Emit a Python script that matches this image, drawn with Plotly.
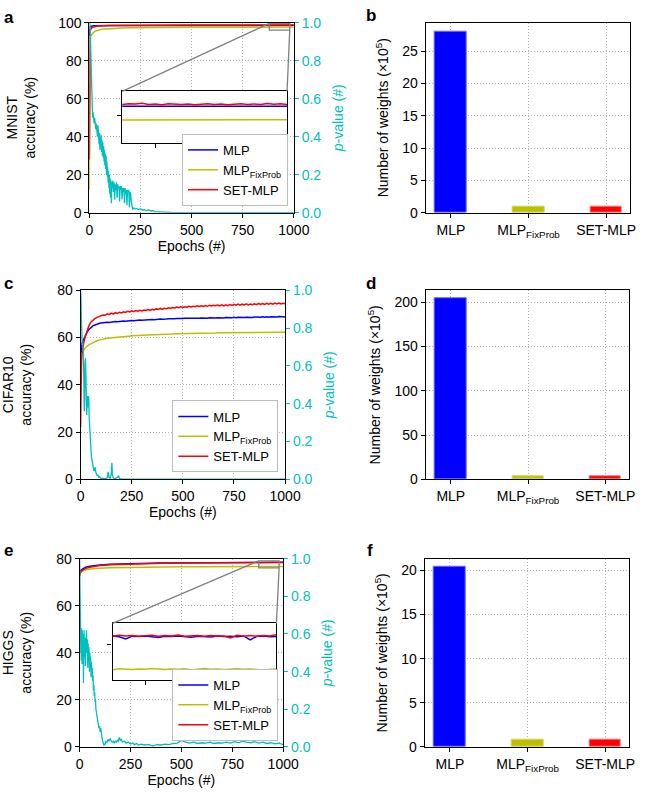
import plotly.graph_objects as go

W, H = 653, 798
FONT = "Liberation Sans, Arial, Helvetica, sans-serif"

# matplotlib-like 'b', 'y', 'r', 'c'
BLUE = "#0000FF"
YELLOW = "#BFBF00"
RED = "#FF0000"
CYAN = "#00BFBF"

MODELS = ["MLP", "MLP<sub>FixProb</sub>", "SET-MLP"]
TAIL_EP = list(range(876, 989, 4))  # epochs shown inside the zoom insets

# ---------------- MNIST ----------------
mnist_ep = [0, 1, 2, 3, 4, 6, 8, 10, 13, 16, 20, 25, 30, 40, 50, 60, 80, 100, 130, 160,
            200, 250, 300, 400, 500, 600, 700, 800, 850] + TAIL_EP + [1000]
mnist_mlp = [93.0, 96.5, 97.3, 97.7, 97.9, 98.05, 98.15, 98.2, 98.25, 98.3, 98.35, 98.38, 98.4, 98.43,
             98.45, 98.47, 98.5, 98.52, 98.54, 98.55, 98.56, 98.57, 98.57, 98.58, 98.58, 98.59, 98.59,
             98.6, 98.6,
             98.60, 98.59, 98.60, 98.61, 98.60, 98.59, 98.60, 98.61, 98.60, 98.60, 98.59, 98.60, 98.61,
             98.60, 98.60, 98.59, 98.60, 98.61, 98.60, 98.60, 98.59, 98.60, 98.61, 98.60, 98.59, 98.60,
             98.60, 98.61, 98.60,
             98.60]
mnist_fix = [12.0, 80.0, 87.5, 90.5, 92.0, 93.0, 93.3, 93.6, 94.0, 94.5, 95.0, 95.3, 95.6, 96.0,
             96.3, 96.5, 96.7, 96.9, 97.05, 97.2, 97.3, 97.4, 97.45, 97.55, 97.6, 97.62, 97.65,
             97.66, 97.67,
             97.68, 97.67, 97.68, 97.69, 97.68, 97.67, 97.68, 97.68, 97.69, 97.68, 97.67, 97.68, 97.68,
             97.69, 97.68, 97.68, 97.67, 97.68, 97.68, 97.69, 97.68, 97.67, 97.68, 97.69, 97.68, 97.68,
             97.69, 97.70, 97.69,
             97.69]
mnist_set = [28.0, 85.0, 92.0, 94.5, 95.5, 96.3, 96.8, 97.1, 97.4, 97.6, 97.8, 97.95, 98.05, 98.2,
             98.3, 98.38, 98.47, 98.52, 98.58, 98.62, 98.65, 98.68, 98.7, 98.72, 98.73, 98.74, 98.74,
             98.75, 98.74,
             98.76, 98.72, 98.78, 98.75, 98.80, 98.73, 98.76, 98.71, 98.77, 98.74, 98.72, 98.76, 98.70,
             98.74, 98.77, 98.72, 98.75, 98.71, 98.74, 98.78, 98.73, 98.76, 98.72, 98.79, 98.74, 98.77,
             98.72, 98.76, 98.74,
             98.75]
mnist_p_ep = [0, 2, 4, 6, 8, 10, 12, 14, 16, 18, 20, 22, 24, 26, 28, 30, 32, 34, 36, 38, 40, 42, 44,
              46, 48, 50, 52, 54, 56, 58, 60, 62, 64, 66, 68, 70, 72, 74, 76, 78, 80, 82, 84, 86, 88,
              90, 92, 94, 96, 98, 100, 102, 104, 106, 108, 110, 112, 115, 118, 121, 124, 127, 130,
              133, 136, 139, 142, 145, 148, 151, 154, 157, 160, 163, 166, 169, 172, 175, 178, 181,
              184, 187, 190, 193, 196, 199, 202, 205, 208, 212, 218, 224, 230, 240, 250, 260, 270,
              280, 290, 300, 310, 320, 340, 370, 400, 500, 600, 700, 800, 900, 1000]
mnist_p = [1.0, 1.0, 0.98, 0.9, 0.75, 0.62, 0.55, 0.52, 0.5, 0.53, 0.49, 0.51, 0.47, 0.5, 0.46, 0.48,
           0.44, 0.47, 0.43, 0.45, 0.40, 0.46, 0.38, 0.44, 0.36, 0.42, 0.33, 0.40, 0.34, 0.41, 0.32,
           0.38, 0.30, 0.37, 0.29, 0.35, 0.27, 0.33, 0.25, 0.31, 0.23, 0.30, 0.20, 0.27, 0.19, 0.24,
           0.16, 0.22, 0.13, 0.20, 0.10, 0.18, 0.08, 0.17, 0.05, 0.16, 0.13, 0.17, 0.11, 0.16, 0.07,
           0.15, 0.12, 0.16, 0.08, 0.15, 0.13, 0.14, 0.06, 0.14, 0.12, 0.14, 0.07, 0.13, 0.11, 0.13,
           0.05, 0.13, 0.10, 0.12, 0.04, 0.12, 0.11, 0.12, 0.03, 0.11, 0.10, 0.06, 0.03, 0.02, 0.025,
           0.02, 0.022, 0.018, 0.02, 0.015, 0.017, 0.012, 0.015, 0.01, 0.012, 0.006, 0.005, 0.003,
           0.002, 0.001, 0.001, 0.0005, 0.0005, 0.0003, 0.0003]

# ---------------- CIFAR10 ----------------
cifar_ep = [0, 1, 2, 3, 5, 7, 10, 15, 20, 25, 30, 40, 50, 60, 70, 80, 90] + list(range(100, 1001, 10))
cifar_mlp = [48, 50, 53, 55, 56.5, 57.5, 58.3, 59.3, 60.3, 61.2, 62.0, 63.3, 64.2, 64.9, 65.3, 65.7, 65.9,
             66.1, 66.3, 66.2, 66.5, 66.4, 66.6, 66.5, 66.8, 66.7, 66.9,
             66.8, 67.0, 66.9, 67.1, 67.0, 67.2, 67.1, 67.3, 67.2, 67.4,
             67.3, 67.4, 67.3, 67.5, 67.4, 67.6, 67.5, 67.7, 67.6, 67.8,
             67.7, 67.9, 67.8, 67.9, 67.8, 68.0, 67.9, 68.0, 67.9, 68.1,
             68.0, 68.1, 68.0, 68.2, 68.1, 68.2, 68.1, 68.3, 68.2, 68.3,
             68.2, 68.3, 68.2, 68.4, 68.3, 68.4, 68.3, 68.4, 68.3, 68.5,
             68.3, 68.5, 68.4, 68.5, 68.4, 68.6, 68.4, 68.6, 68.5, 68.6,
             68.5, 68.6, 68.5, 68.7, 68.5, 68.7, 68.6, 68.7, 68.6, 68.8,
             68.6, 68.8, 68.6, 68.8, 68.7, 68.8, 68.7, 68.9, 68.7, 68.8,
             68.7]
cifar_fix = [40, 46, 49, 50.5, 52, 53, 53.8, 54.5, 55.2, 55.8, 56.2, 56.9, 57.4, 57.9, 58.3, 58.6, 58.9,
             59.2, 59.4, 59.5, 59.7, 59.8, 59.9, 60.0, 60.1, 60.2, 60.3,
             60.3, 60.4, 60.5, 60.5, 60.6, 60.7, 60.7, 60.8, 60.8, 60.9,
             60.9, 61.0, 61.0, 61.1, 61.1, 61.2, 61.2, 61.2, 61.3, 61.3,
             61.4, 61.4, 61.4, 61.5, 61.5, 61.5, 61.6, 61.6, 61.6, 61.6,
             61.7, 61.7, 61.7, 61.7, 61.8, 61.7, 61.8, 61.8, 61.8, 61.8,
             61.8, 61.9, 61.8, 61.9, 61.9, 61.9, 61.9, 62.0, 61.9, 62.0,
             62.0, 62.0, 62.0, 62.0, 62.1, 62.0, 62.1, 62.1, 62.0, 62.1,
             62.1, 62.1, 62.1, 62.2, 62.1, 62.1, 62.2, 62.2, 62.1, 62.2,
             62.2, 62.2, 62.2, 62.2, 62.3, 62.2, 62.2, 62.3, 62.2, 62.3,
             62.2]
cifar_set = [22, 35, 42, 47, 51, 53.5, 55.5, 57.5, 59.5, 61, 62.5, 64.8, 66.5, 67.4, 68.0, 68.5, 68.8,
             69.0, 69.5, 69.4, 70.0, 69.7, 70.3, 69.9, 70.5, 70.2, 70.7,
             70.4, 70.9, 70.6, 71.1, 70.8, 71.3, 70.9, 71.4, 71.1, 71.5,
             71.2, 71.6, 71.4, 71.8, 71.5, 71.9, 71.7, 72.1, 71.9, 72.3,
             72.0, 72.4, 72.2, 72.6, 72.3, 72.7, 72.5, 72.9, 72.6, 73.0,
             72.7, 73.0, 72.8, 73.2, 72.9, 73.2, 73.0, 73.4, 73.1, 73.4,
             73.1, 73.5, 73.2, 73.6, 73.3, 73.6, 73.4, 73.7, 73.4, 73.8,
             73.4, 73.8, 73.5, 73.9, 73.6, 74.0, 73.7, 74.1, 73.7, 74.1,
             73.8, 74.2, 73.8, 74.2, 73.9, 74.3, 73.9, 74.4, 74.0, 74.4,
             74.0, 74.5, 74.1, 74.5, 74.1, 74.6, 74.2, 74.6, 74.2, 74.5,
             74.3]
cifar_p_ep = [0, 2, 4, 6, 8, 10, 12, 14, 16, 18, 20, 22, 24, 26, 28, 30, 32, 34, 36, 38, 40, 42, 44,
              46, 48, 50, 53, 56, 59, 62, 65, 68, 71, 74, 77, 80, 84, 88, 92, 96, 100, 110, 120, 130,
              135, 139, 145, 150, 153, 156, 162, 170, 180, 186, 190, 200, 250, 300, 500, 1000]
cifar_p = [1.0, 0.96, 0.84, 0.75, 0.71, 0.72, 0.70, 0.66, 0.52, 0.36, 0.42, 0.61, 0.64, 0.55, 0.40,
           0.34, 0.40, 0.44, 0.38, 0.44, 0.43, 0.33, 0.28, 0.21, 0.18, 0.16, 0.12, 0.10, 0.08, 0.06,
           0.045, 0.05, 0.065, 0.04, 0.025, 0.02, 0.025, 0.01, 0.015, 0.006, 0.004, 0.006, 0.003,
           0.008, 0.04, 0.01, 0.004, 0.03, 0.088, 0.02, 0.004, 0.005, 0.01, 0.02, 0.005, 0.003,
           0.002, 0.001, 0.001, 0.0005]

# ---------------- HIGGS ----------------
higgs_ep = [0, 2, 5, 10, 20, 30, 50, 75, 100, 150, 200, 250, 300, 400, 500, 600, 700, 800, 850] + TAIL_EP + [1000]
higgs_mlp = [73.5, 74.3, 74.9, 75.4, 76.0, 76.4, 76.8, 77.1, 77.3, 77.6, 77.8, 77.9, 78.0, 78.15, 78.25,
             78.3, 78.35, 78.4, 78.42,
             78.44, 78.46, 78.42, 78.30, 78.45, 78.43, 78.46, 78.41, 78.38, 78.45, 78.43, 78.46, 78.42,
             78.39, 78.45, 78.44, 78.41, 78.46, 78.43, 78.45, 78.42, 78.46, 78.25, 78.44, 78.46, 78.42,
             78.45, 78.47, 78.44,
             78.44]
higgs_fix = [72.5, 73.4, 74.0, 74.5, 75.0, 75.3, 75.6, 75.85, 76.0, 76.2, 76.3, 76.4, 76.45, 76.55, 76.6,
             76.62, 76.65, 76.67, 76.68,
             76.68, 76.66, 76.71, 76.69, 76.67, 76.70, 76.68, 76.72, 76.69, 76.67, 76.70, 76.68, 76.71,
             76.66, 76.69, 76.72, 76.68, 76.70, 76.67, 76.69, 76.71, 76.68, 76.70, 76.67, 76.62, 76.69,
             76.71, 76.68, 76.70,
             76.69]
higgs_set = [72.8, 73.8, 74.4, 74.9, 75.5, 75.9, 76.4, 76.8, 77.1, 77.4, 77.6, 77.8, 77.9, 78.1, 78.2,
             78.3, 78.35, 78.4, 78.45,
             78.48, 78.45, 78.50, 78.46, 78.49, 78.44, 78.47, 78.50, 78.45, 78.48, 78.46, 78.51, 78.44,
             78.47, 78.49, 78.45, 78.48, 78.46, 78.46, 78.35, 78.50, 78.45, 78.48, 78.44, 78.49, 78.46,
             78.52, 78.47, 78.48,
             78.47]
higgs_p_ep = [0, 1, 2, 3, 4, 5, 6, 7, 8, 9, 10, 11, 12, 13, 14, 15, 16, 17, 18, 19, 20, 22, 24, 26, 28,
              30, 32, 34, 36, 38, 40, 42, 44, 46, 48, 50, 52, 54, 56, 58, 60, 62, 64, 66, 68, 70, 72,
              74, 76, 78, 80, 83, 86, 89, 92, 95, 98, 101, 104, 107, 110, 113, 116, 120, 125, 130, 135,
              140, 145, 150, 155, 160, 165, 170, 175, 180, 185, 190, 195, 200, 205, 210, 220, 230, 240,
              250, 260, 270, 280, 290, 300, 320, 340, 360, 380, 400, 420, 440, 460, 480, 500, 520, 540,
              560, 580, 600, 620, 640, 660, 680, 700, 720, 740, 760, 780, 800, 820, 840, 860, 880,
              900, 920, 940, 960, 980, 1000]
higgs_p = [1.0, 0.9, 0.75, 0.62, 0.55, 0.66, 0.5, 0.6, 0.46, 0.63, 0.5, 0.58, 0.44, 0.62, 0.48, 0.56,
           0.4, 0.6, 0.45, 0.34, 0.52, 0.62, 0.47, 0.58, 0.43, 0.55, 0.45, 0.62, 0.5, 0.57, 0.42, 0.55,
           0.46, 0.53, 0.40, 0.5, 0.43, 0.48, 0.37, 0.45, 0.38, 0.42, 0.35, 0.38, 0.3, 0.33, 0.27,
           0.29, 0.24, 0.25, 0.2, 0.18, 0.15, 0.13, 0.12, 0.1, 0.11, 0.08, 0.1, 0.06, 0.05, 0.03,
           0.02, 0.01, 0.015, 0.03, 0.025, 0.04, 0.03, 0.045, 0.03, 0.025, 0.03, 0.02, 0.03, 0.025,
           0.035, 0.03, 0.05, 0.035, 0.04, 0.025, 0.03, 0.02, 0.025, 0.015, 0.02, 0.012, 0.018, 0.01,
           0.015, 0.01, 0.012, 0.006, 0.012, 0.01, 0.015, 0.012, 0.018, 0.02, 0.035, 0.025, 0.02,
           0.025, 0.018, 0.022, 0.02, 0.025, 0.018, 0.022, 0.02, 0.025, 0.02, 0.028, 0.022, 0.03,
           0.025, 0.022, 0.028, 0.02, 0.025, 0.018, 0.022, 0.016, 0.02, 0.012]

# ---------------- number of weights (x10^5) ----------------
mnist_weights = [28.0, 0.95, 0.95]
cifar_weights = [204.0, 3.3, 3.3]
higgs_weights = [20.45, 0.85, 0.85]

# inset zoom windows (epochs, accuracy)
mnist_zoom_x, mnist_zoom_y = [880, 980], [96.09, 99.62]
higgs_zoom_x, higgs_zoom_y = [880, 980], [76.1, 79.13]

TICK_SIZE = 14
TITLE_SIZE = 14
GRID_DASH = "1px,2px"


def hx(p):
    return p / W


def vy(p):
    return 1 - p / H


def base_axis(**kw):
    d = dict(showline=True, linecolor="black", linewidth=1, mirror=True,
             ticks="outside", ticklen=4, tickwidth=1, tickcolor="black",
             showgrid=True, gridcolor="#b4b4b4", griddash=GRID_DASH, gridwidth=1,
             zeroline=False, tickfont=dict(size=TICK_SIZE, color="black"),
             title_font=dict(size=TITLE_SIZE, color="black"))
    d.update(kw)
    return d


def to_paper(v, rng, dom):
    return dom[0] + (v - rng[0]) / (rng[1] - rng[0]) * (dom[1] - dom[0])


fig = go.Figure()
layout = {}
shapes = []

# (name, epochs, series, p_ep, p, left max, x px, y px, legend box right/bottom px, legend no., title standoff)
panels = [
    ("MNIST", mnist_ep, (mnist_mlp, mnist_fix, mnist_set), mnist_p_ep, mnist_p, 100,
     (88, 299), (15, 209), (293, 202), 1, 19),
    ("CIFAR10", cifar_ep, (cifar_mlp, cifar_fix, cifar_set), cifar_p_ep, cifar_p, 80,
     (79, 290), (288, 481), (283, 474), 2, 26),
    ("HIGGS", higgs_ep, (higgs_mlp, higgs_fix, higgs_set), higgs_p_ep, higgs_p, 80,
     (78, 288), (562, 754), (283, 748), 3, 26),
]

for i, (name, ep, series, p_ep, p, ymax, xs, ys, lg, n, so) in enumerate(panels):
    xa = f"x{2 * i + 1}" if i else "x"
    ya = f"y{3 * i + 1}" if i else "y"
    yp = f"y{3 * i + 2}"
    leg = "legend" if n == 1 else f"legend{n}"
    for vals, col, lab in zip(series, (BLUE, YELLOW, RED), MODELS):
        fig.add_trace(go.Scatter(x=ep, y=vals, mode="lines", name=lab, line=dict(color=col, width=1.5),
                                 xaxis=xa, yaxis=ya, legend=leg))
    fig.add_trace(go.Scatter(x=p_ep, y=p, mode="lines", showlegend=False,
                             line=dict(color=CYAN, width=1.3), xaxis=xa, yaxis=yp))
    xdom = [hx(xs[0]), hx(xs[1])]
    ydom = [vy(ys[1]), vy(ys[0])]
    layout[xa.replace("x", "xaxis")] = base_axis(domain=xdom, anchor=ya, range=[0, 1000],
                                                tickvals=[0, 250, 500, 750, 1000],
                                                title_text="Epochs (#)", title_standoff=3)
    layout[ya.replace("y", "yaxis")] = base_axis(domain=ydom, anchor=xa, range=[0, ymax], dtick=20,
                                                title_text=f"{name}<br>accuracy (%)", title_standoff=so)
    layout[yp.replace("y", "yaxis")] = dict(overlaying=ya, anchor=xa, side="right", range=[0, 1],
                                           dtick=0.2, tickformat=".1f", showgrid=False, zeroline=False,
                                           showline=False, ticks="outside", ticklen=4, tickcolor=CYAN,
                                           tickfont=dict(size=TICK_SIZE, color=CYAN),
                                           title=dict(text="<i>p</i>-value (#)",
                                                      font=dict(size=TITLE_SIZE, color=CYAN), standoff=12))
    layout[leg] = dict(x=hx(lg[0]), y=vy(lg[1]), xanchor="right", yanchor="bottom",
                       bgcolor="white", bordercolor="#bdbdbd", borderwidth=1,
                       font=dict(size=13, color="black"), tracegroupgap=0)

# bar panels b, d, f
bar_panels = [
    (mnist_weights, (435, 646), (15, 209), 29.4, 5),
    (cifar_weights, (435, 645), (288, 481), 213.3, 50),
    (higgs_weights, (434, 645), (562, 754), 21.33, 5),
]
for i, (vals, xs, ys, ymax, dt) in enumerate(bar_panels):
    xa = f"x{2 * i + 2}"
    ya = f"y{3 * i + 3}"
    fig.add_trace(go.Bar(x=MODELS, y=vals, width=0.41,
                         marker=dict(color=[BLUE, YELLOW, RED],
                                     line=dict(color=["#6a6aff", "#d4d45a", "#ff7070"], width=1)),
                         showlegend=False, xaxis=xa, yaxis=ya))
    layout[xa.replace("x", "xaxis")] = base_axis(domain=[hx(xs[0]), hx(xs[1])], anchor=ya,
                                                range=[-0.325, 2.31], type="category")
    layout[ya.replace("y", "yaxis")] = base_axis(domain=[vy(ys[1]), vy(ys[0])], anchor=xa,
                                                range=[0, ymax], dtick=dt,
                                                title_text="Number of weights (×10<sup>5</sup>)",
                                                title_standoff=10)

# zoom insets for MNIST (a) and HIGGS (e)
insets = [
    (mnist_ep, (mnist_mlp, mnist_fix, mnist_set), mnist_zoom_x, mnist_zoom_y, (122, 292), (85, 138),
     "x7", "y10", "x", "y", 98),
    (higgs_ep, (higgs_mlp, higgs_fix, higgs_set), higgs_zoom_x, higgs_zoom_y, (112, 281), (628, 686),
     "x8", "y11", "x5", "y7", 78),
]
for ep, series, zx, zy, xs, ys, xa, ya, mx, my, tick in insets:
    for vals, col in zip(series, (BLUE, YELLOW, RED)):
        fig.add_trace(go.Scatter(x=ep, y=vals, mode="lines", showlegend=False,
                                 line=dict(color=col, width=1.5), xaxis=xa, yaxis=ya))
    xdom = [hx(xs[0]), hx(xs[1])]
    ydom = [vy(ys[1]), vy(ys[0])]
    layout[xa.replace("x", "xaxis")] = base_axis(domain=xdom, anchor=ya, range=zx, tickvals=[900, 950],
                                                showticklabels=False, showgrid=False, linewidth=1.3)
    layout[ya.replace("y", "yaxis")] = base_axis(domain=ydom, anchor=xa, range=zy, tickvals=[tick],
                                                showticklabels=False, showgrid=False, linewidth=1.3)
    # marked window in the main panel
    shapes.append(dict(type="rect", xref=mx, yref=my, x0=zx[0], x1=zx[1], y0=zy[0], y1=zy[1],
                       line=dict(color="#808080", width=1.3)))
    mxr = layout[mx.replace("x", "xaxis")]
    myr = layout[my.replace("y", "yaxis")]
    px0 = to_paper(zx[0], mxr["range"], mxr["domain"])
    px1 = to_paper(zx[1], mxr["range"], mxr["domain"])
    py0 = to_paper(zy[0], myr["range"], myr["domain"])
    py1 = to_paper(zy[1], myr["range"], myr["domain"])
    shapes.append(dict(type="line", xref="paper", yref="paper", x0=xdom[0], y0=ydom[1], x1=px0, y1=py1,
                       line=dict(color="#808080", width=1.3)))
    shapes.append(dict(type="line", xref="paper", yref="paper", x0=xdom[1], y0=ydom[1], x1=px1, y1=py0,
                       line=dict(color="#808080", width=1.3)))

annotations = []
for lab, x, y in [("a", 5, 10), ("b", 379, 8), ("c", 5, 281), ("d", 379, 281), ("e", 5, 554), ("f", 378, 554)]:
    annotations.append(dict(text=f"<b>{lab}</b>", x=hx(x), y=vy(y), xref="paper", yref="paper",
                            xanchor="center", yanchor="middle", showarrow=False,
                            font=dict(size=17, color="black")))

fig.update_layout(width=W, height=H, autosize=False, margin=dict(l=0, r=0, t=0, b=0),
                  paper_bgcolor="white", plot_bgcolor="white",
                  font=dict(family=FONT, size=14, color="black"),
                  shapes=shapes, annotations=annotations, bargap=0, **layout)

# pin the figure to the window's top-left corner so the page is exactly the figure's size
PIN = ("document.documentElement.style.overflow='hidden';"
       "document.body.style.margin='0';document.body.style.overflow='hidden';"
       "var g=document.querySelector('.plotly-graph-div');"
       "g.style.position='fixed';g.style.left='0px';g.style.top='0px';")
fig.write_html("out.html", config={"displayModeBar": False}, post_script=PIN)
